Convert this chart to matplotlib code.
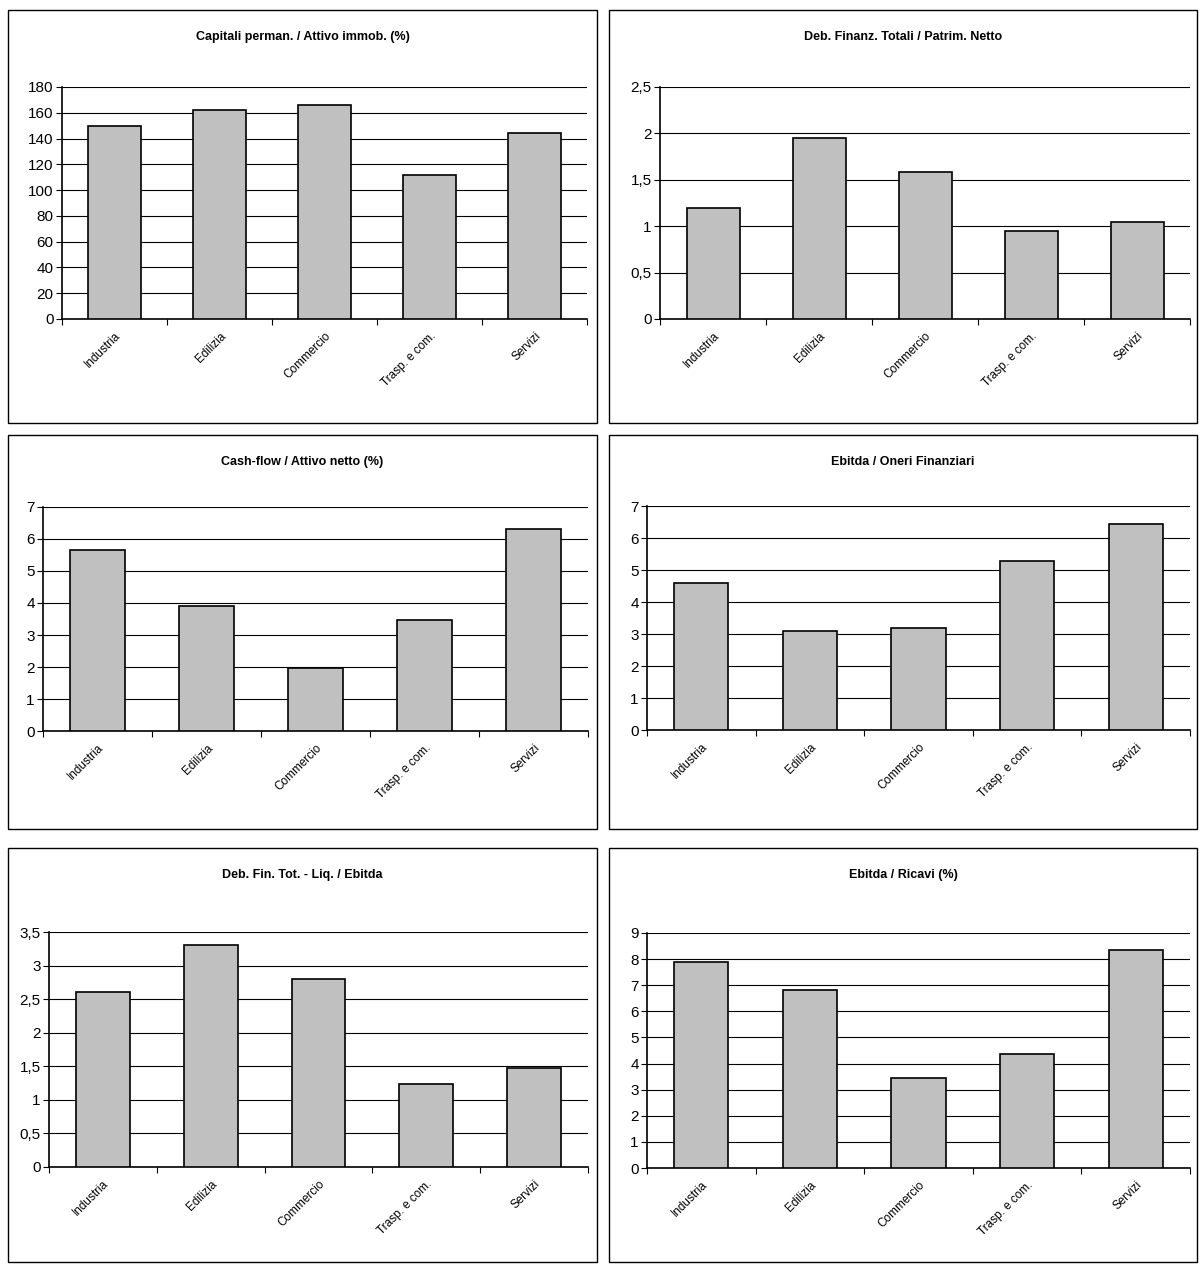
import numpy as np
import matplotlib.pyplot as plt
from matplotlib.patches import Rectangle
from matplotlib.ticker import FuncFormatter

plt.rcParams['font.family'] = ['Liberation Sans', 'DejaVu Sans']

settori = ["Industria", "Edilizia", "Commercio", "Trasp. e com.", "Servizi"]

titoli = ["Capitali perman. / Attivo immob. (%)",
          "Deb. Finanz. Totali / Patrim. Netto",
          "Cash-flow / Attivo netto (%)",
          "Ebitda / Oneri Finanziari",
          "Deb. Fin. Tot. - Liq. / Ebitda",
          "Ebitda / Ricavi (%)"]

cap_perm = [150, 162, 166, 112, 144]
deb_pn = [1.2, 1.95, 1.58, 0.95, 1.04]
cash_flow = [5.65, 3.9, 1.97, 3.47, 6.3]
ebitda_of = [4.58, 3.08, 3.18, 5.28, 6.43]
deb_ebitda = [2.6, 3.3, 2.8, 1.24, 1.47]
ebitda_ric = [7.9, 6.8, 3.45, 4.35, 8.35]

serie = [cap_perm, deb_pn, cash_flow, ebitda_of, deb_ebitda, ebitda_ric]
ymax = [180, 2.5, 7, 7, 3.5, 9]
ystep = [20, 0.5, 1, 1, 0.5, 1]

W, H = 1200, 1271
# box (x0, y0, x1, y1) and plot area in pixels
boxes = [(8, 10, 597, 423), (609, 10, 1197, 423),
         (8, 435, 597, 829), (609, 435, 1197, 829),
         (8, 848, 597, 1262), (609, 848, 1197, 1262)]
plots = [(62, 87, 587, 319), (660, 87, 1190, 319),
         (43, 507, 588, 731), (647, 506, 1190, 730),
         (49, 932, 588, 1167), (647, 933, 1190, 1168)]

fig = plt.figure(figsize=(12, 12.71), dpi=100)


def fmt(v, pos):
    s = f"{v:g}"
    return s.replace(".", ",")


for i in range(6):
    bx0, by0, bx1, by1 = boxes[i]
    fig.patches.append(Rectangle((bx0 / W, 1 - by1 / H), (bx1 - bx0) / W, (by1 - by0) / H,
                                 transform=fig.transFigure, fill=False, edgecolor='black', lw=1))
    fig.text((bx0 + bx1) / 2 / W, 1 - (by0 + 27) / H, titoli[i], ha='center', va='center',
             fontsize=9, fontweight='bold')
    px0, py0, px1, py1 = plots[i]
    ax = fig.add_axes([px0 / W, 1 - py1 / H, (px1 - px0) / W, (py1 - py0) / H])
    x = np.arange(len(settori))
    ax.bar(x, serie[i], width=0.5, color='#c0c0c0', edgecolor='black', lw=1.2, zorder=3)
    ax.set_xlim(-0.5, 4.5)
    ax.set_ylim(0, ymax[i])
    yt = np.arange(0, ymax[i] + ystep[i] / 2, ystep[i])
    ax.set_yticks(yt)
    ax.yaxis.set_major_formatter(FuncFormatter(fmt))
    ax.grid(axis='y', color='black', lw=0.8, zorder=0)
    ax.set_xticks(np.arange(-0.5, 5, 1))
    ax.set_xticklabels([])
    ax.set_xticks(x, minor=True)
    ax.set_xticklabels(settori, minor=True, rotation=45, ha='right', rotation_mode='anchor',
                       fontsize=8.5)
    ax.tick_params(axis='x', which='minor', length=0, pad=8)
    ax.tick_params(axis='x', which='major', direction='out', length=4)
    ax.tick_params(axis='y', direction='out', length=4, labelsize=11, pad=2)
    for s in ['top', 'right']:
        ax.spines[s].set_visible(False)
    for s in ['left', 'bottom']:
        ax.spines[s].set_linewidth(1.2)

fig.savefig("out.png", dpi=100)
